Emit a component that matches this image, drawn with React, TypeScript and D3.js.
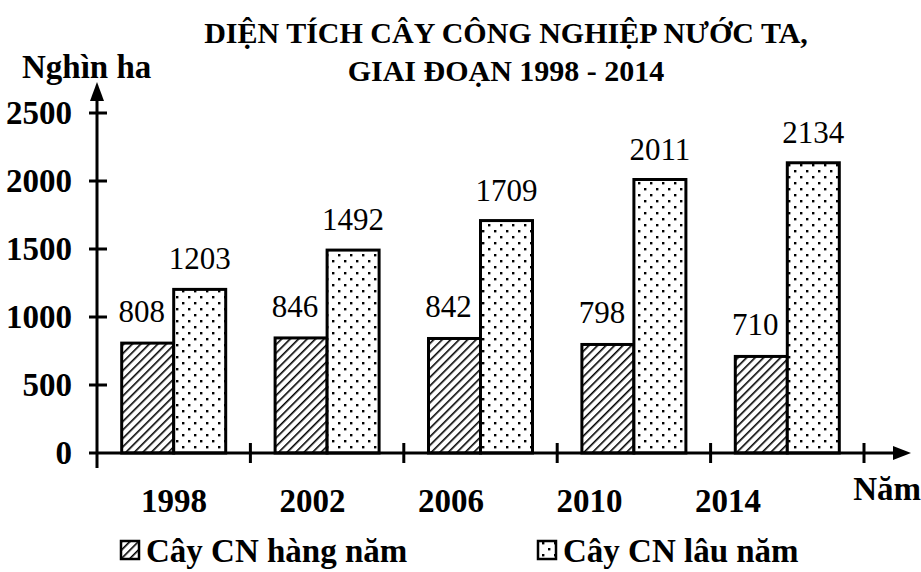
import React from 'react';
import * as d3 from 'd3';

const years = ['1998', '2002', '2006', '2010', '2014'];
const hangNam = [808, 846, 842, 798, 710];
const lauNam = [1203, 1492, 1709, 2011, 2134];
const yTicks = [0, 500, 1000, 1500, 2000, 2500];
const seriesNames = ['Cây CN hàng năm', 'Cây CN lâu năm'];

const W = 921;
const H = 572;
const FONT = "'Liberation Serif', 'DejaVu Serif', serif";

export default function App() {
  const x0 = d3.scaleBand<string>().domain(years).range([97, 864]).padding(0);
  const x1 = d3
    .scaleBand<string>()
    .domain(['hang', 'lau'])
    .range([0, x0.bandwidth()])
    .paddingInner(0)
    .paddingOuter(0.475);
  const y = d3.scaleLinear().domain([0, 2500]).range([453, 113]);
  // the year labels sit a bit off the band centres in the original
  const xLabel = d3.scalePoint<string>().domain(years).range([174, 728]);

  const baseY = y(0);
  const axisX = 97;
  const txt = { fontFamily: FONT };
  const big = 33;

  return (
    <svg width={W} height={H} style={{ display: 'block', position: 'absolute', left: 0, top: 0 }}>
      <defs>
        <pattern id="hatch" patternUnits="userSpaceOnUse" width="6" height="6" patternTransform="rotate(45)">
          <rect width="6" height="6" fill="#fff" />
          <line x1="0" y1="0" x2="0" y2="6" stroke="#000" strokeWidth="3.2" />
        </pattern>
        <pattern id="dots" patternUnits="userSpaceOnUse" width="12" height="12">
          <rect width="12" height="12" fill="#fff" />
          <rect x="2" y="2" width="2.4" height="2.4" fill="#000" />
          <rect x="8" y="8" width="2.4" height="2.4" fill="#000" />
        </pattern>
      </defs>
      <rect width={W} height={H} fill="#fff" />

      <text x={506} y={43} textAnchor="middle" fontWeight="bold" fontSize={30} style={txt}>
        DIỆN TÍCH CÂY CÔNG NGHIỆP NƯỚC TA,
      </text>
      <text x={506} y={81} textAnchor="middle" fontWeight="bold" fontSize={30} style={txt}>
        GIAI ĐOẠN 1998 - 2014
      </text>
      <text x={22} y={78} fontWeight="bold" fontSize={big} style={txt}>Nghìn ha</text>

      {/* bars */}
      {years.map((yr, i) => {
        const bx = x0(yr) as number;
        const hx = bx + (x1('hang') as number);
        const lx = bx + (x1('lau') as number);
        const bw = x1.bandwidth();
        return (
          <g key={yr}>
            <rect x={hx} y={y(hangNam[i])} width={bw} height={baseY - y(hangNam[i])} fill="url(#hatch)" stroke="#000" strokeWidth={3} />
            <rect x={lx} y={y(lauNam[i])} width={bw} height={baseY - y(lauNam[i])} fill="url(#dots)" stroke="#000" strokeWidth={3} />
            <text x={hx + bw / 2 - 6} y={y(hangNam[i]) - 21} textAnchor="middle" fontSize={31} style={txt}>{hangNam[i]}</text>
            <text x={lx + bw / 2} y={y(lauNam[i]) - 20} textAnchor="middle" fontSize={31} style={txt}>{lauNam[i]}</text>
          </g>
        );
      })}

      {/* y axis */}
      <line x1={axisX} x2={axisX} y1={468} y2={96} stroke="#000" strokeWidth={3} />
      <path d={`M${axisX},82 L${axisX - 7},101 L${axisX + 7},101 Z`} fill="#000" />
      {yTicks.map(t => (
        <g key={t}>
          {t > 0 && <line x1={89} x2={107} y1={y(t)} y2={y(t)} stroke="#000" strokeWidth={3} />}
          <text x={72} y={y(t) + 11} textAnchor="end" fontWeight="bold" fontSize={big} style={txt}>{t}</text>
        </g>
      ))}

      {/* x axis */}
      <line x1={axisX - 8} x2={896} y1={baseY} y2={baseY} stroke="#000" strokeWidth={3} />
      <path d={`M911,${baseY} L893,${baseY - 7} L893,${baseY + 7} Z`} fill="#000" />
      {years.map(yr => (
        <line key={yr} x1={(x0(yr) as number) + x0.bandwidth()} x2={(x0(yr) as number) + x0.bandwidth()} y1={443} y2={463} stroke="#000" strokeWidth={3} />
      ))}
      {years.map(yr => (
        <text key={yr} x={xLabel(yr)} y={512} textAnchor="middle" fontWeight="bold" fontSize={big} style={txt}>{yr}</text>
      ))}
      <text x={921} y={500} textAnchor="end" fontWeight="bold" fontSize={big} style={txt}>Năm</text>

      {/* legend */}
      <g>
        <rect x={121} y={541} width={18} height={18} fill="url(#hatch)" stroke="#000" strokeWidth={2.5} />
        <text x={146} y={562} fontWeight="bold" fontSize={big} style={txt}>{seriesNames[0]}</text>
        <rect x={538} y={541} width={18} height={18} fill="url(#dots)" stroke="#000" strokeWidth={2.5} />
        <text x={563} y={562} fontWeight="bold" fontSize={big} style={txt}>{seriesNames[1]}</text>
      </g>
    </svg>
  );
}
